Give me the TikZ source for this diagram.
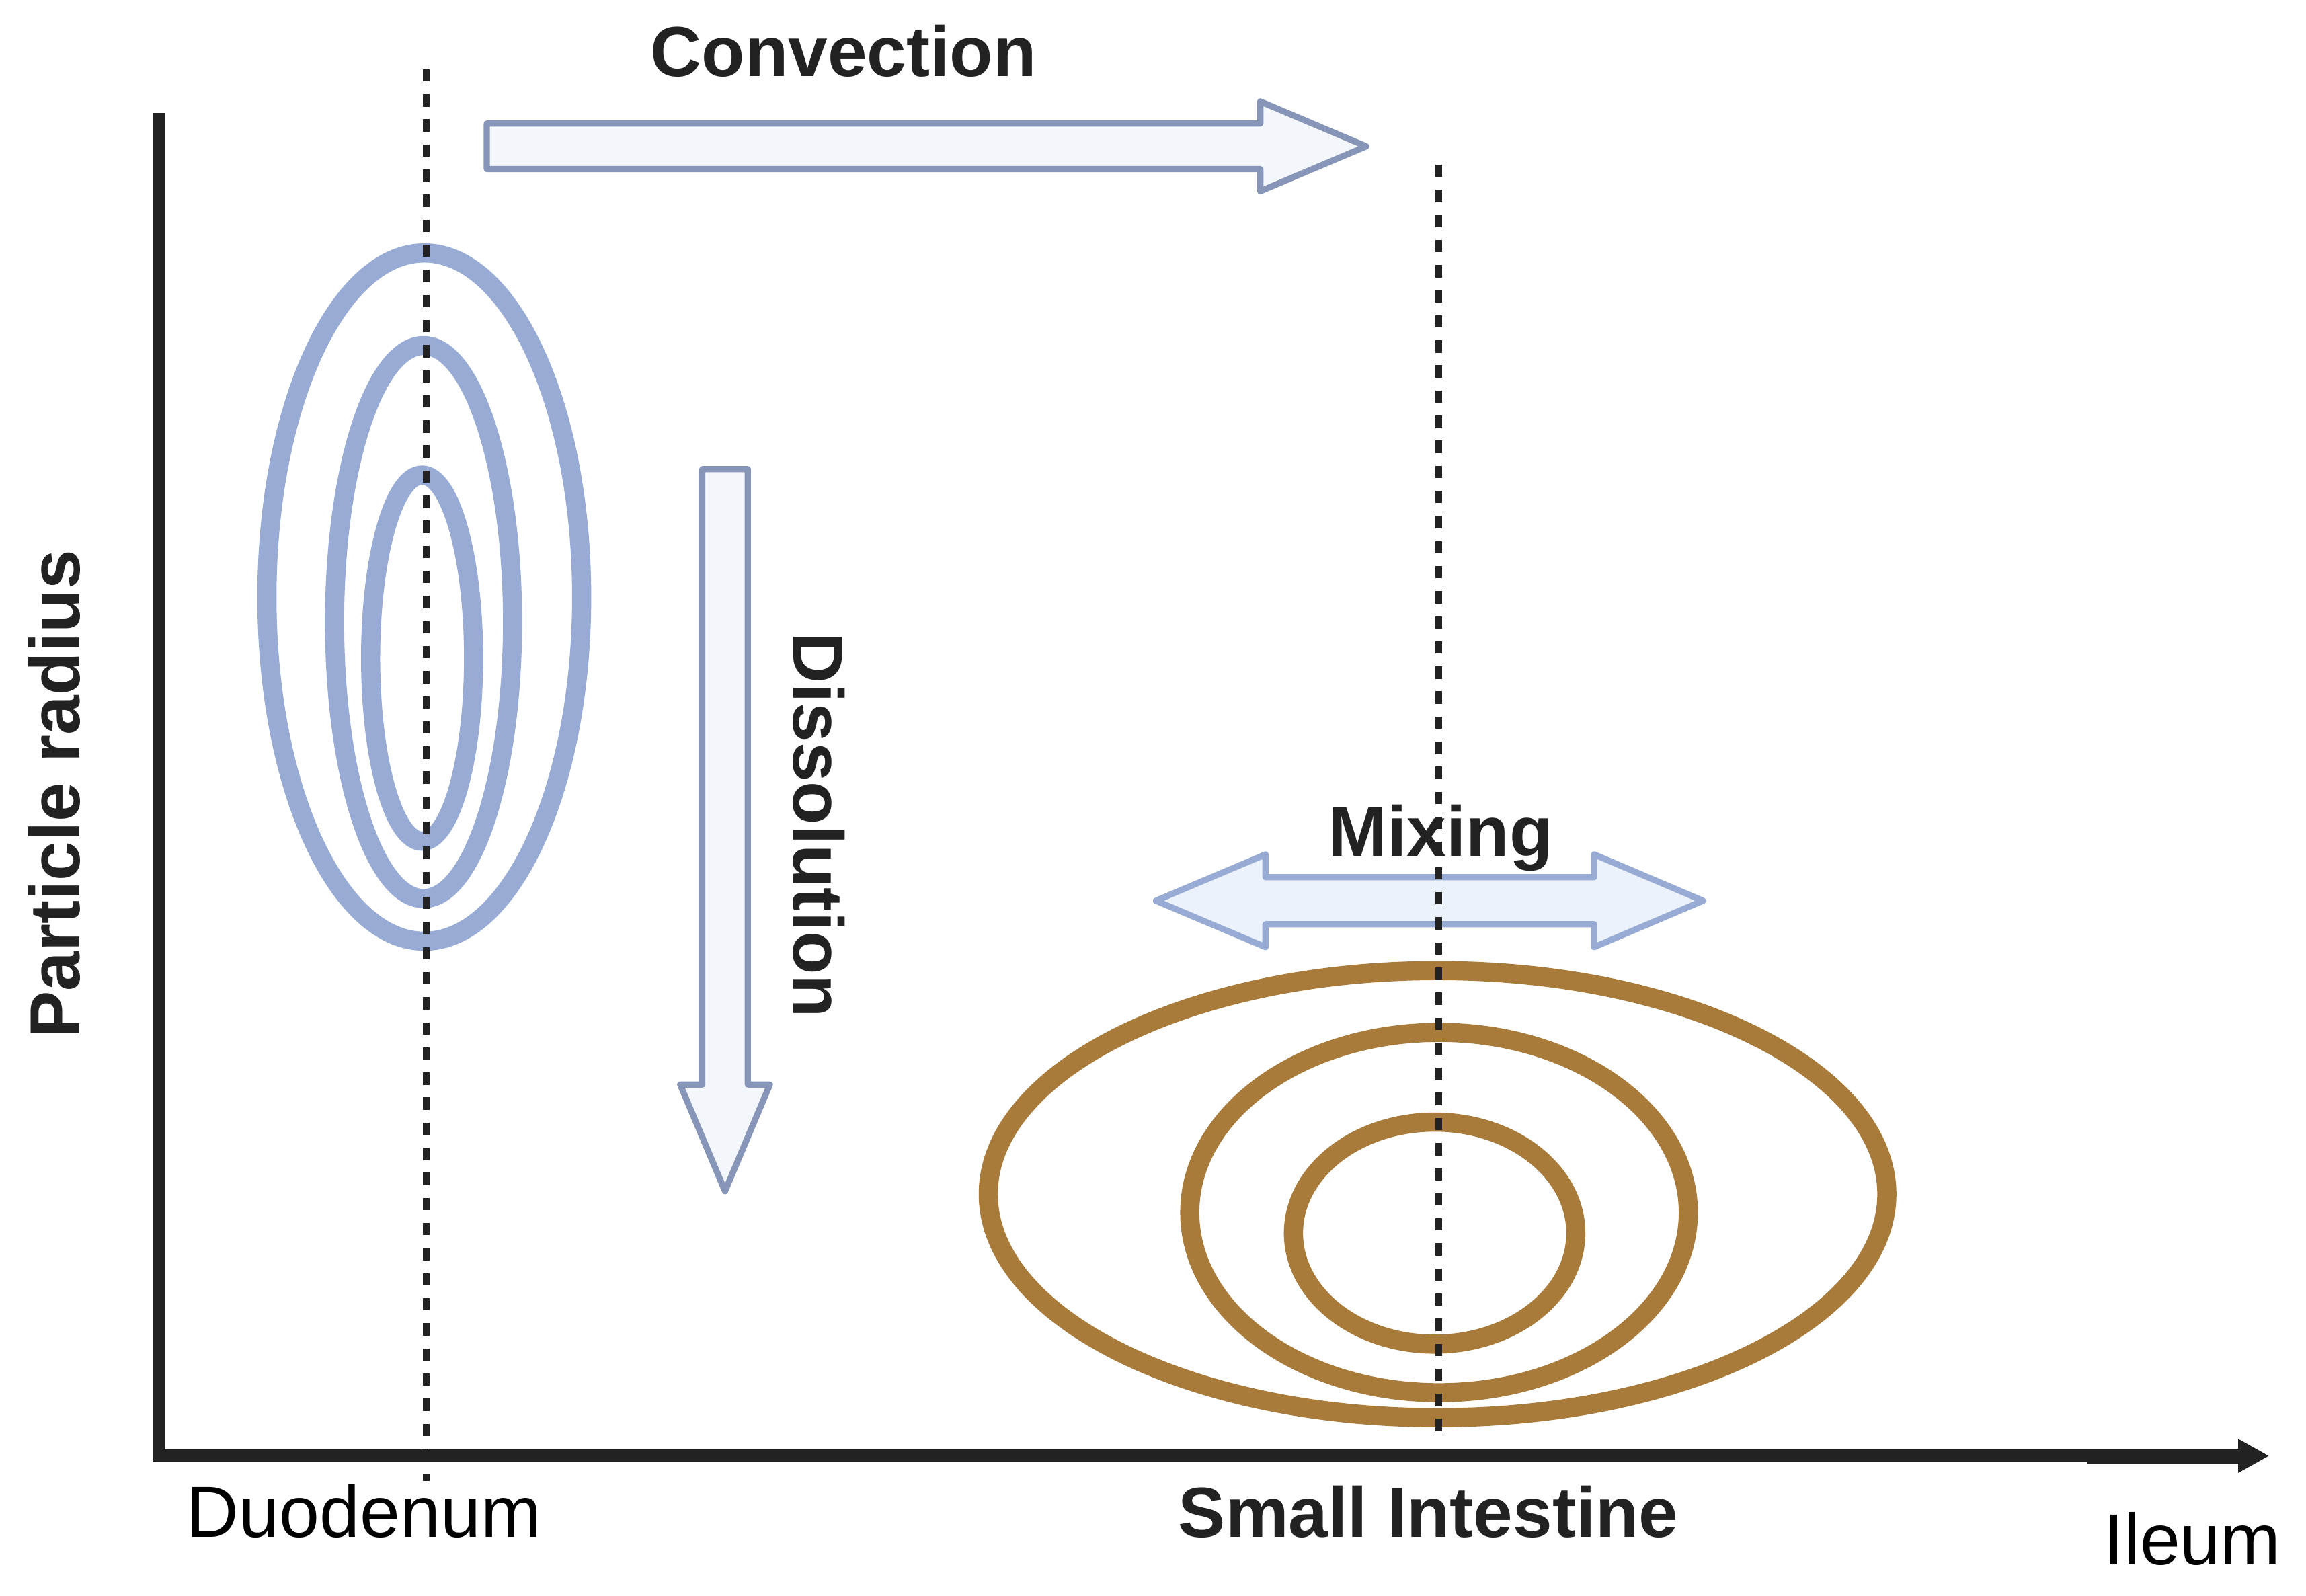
\documentclass[tikz,border=0pt]{standalone}
\usepackage{fontspec}
\setmainfont{Liberation Sans}
\usepackage{xcolor}
\usetikzlibrary{arrows.meta}
\definecolor{axisdark}{HTML}{222222}
\definecolor{eggblue}{HTML}{97ABD4}
\definecolor{flowedge}{HTML}{8795B8}
\definecolor{flowfill}{HTML}{F3F6FA}
\definecolor{mixfill}{HTML}{EBF2FB}
\definecolor{grainbrown}{HTML}{A87B3A}
\tikzset{
  figlabel/.style={inner sep=0pt, text=axisdark, font=\fontsize{13.7}{16}\selectfont\bfseries},
  figaxislabel/.style={inner sep=0pt, text=black, font=\fontsize{14}{17}\selectfont},
  figaxis/.style={draw=axisdark, line width=2.4pt},
  figguide/.style={draw=axisdark, line width=1.2pt, dash pattern=on 2.4pt off 2.45pt},
  figegg/.style={draw=eggblue, line width=3.7pt},
  figgrain/.style={draw=grainbrown, line width=3.7pt},
  figflow/.style={draw=flowedge, fill=flowfill, line width=1.2pt, line join=round},
  figmix/.style={draw=eggblue, fill=mixfill, line width=1.2pt, line join=round},
}

\begin{document}
\begin{tikzpicture}[x=0.01cm, y=-0.01cm]
			\useasboundingbox (0,0) rectangle (1568,1085);

			% Axes
			\coordinate (ytop) at (108,77);
			\coordinate (origin) at (108,990);
			\coordinate (xmid) at (1419,990);
			\coordinate (xend) at (1543,990);
			\draw[figaxis] (ytop) -- (origin) -- (xmid);
			\draw[figaxis, line width=2.85pt, -{Triangle[length=6pt, width=6.1pt]}] (xmid) -- (xend);

			% Particles in the duodenum (blue) and small intestine (brown)
			\draw[figegg] (288.5,406) ellipse [x radius=107, y radius=234];
			\draw[figegg] (288,423) ellipse [x radius=60.5, y radius=188];
			\draw[figegg] (287,447.5) ellipse [x radius=35, y radius=124.5];
			\draw[figgrain] (977.5,812) ellipse [x radius=305.5, y radius=152];
			\draw[figgrain] (978.5,824.5) ellipse [x radius=169.5, y radius=122.5];
			\draw[figgrain] (975.5,838.5) ellipse [x radius=96, y radius=75.5];

			% Block arrows
			\draw[figflow] (331,84) -- (857,84) -- (857,69) -- (929,99.5) -- (857,130) -- (857,115) -- (331,115) -- cycle;
			\draw[figflow] (477.5,319) -- (508.5,319) -- (508.5,737.5) -- (523.5,737.5) -- (493,810) -- (462.5,737.5) -- (477.5,737.5) -- cycle;
			\draw[figmix] (786,612.5) -- (860.5,581) -- (860.5,596.5) -- (1084,596.5) -- (1084,581) -- (1158,612.5)
				-- (1084,644) -- (1084,628.5) -- (860.5,628.5) -- (860.5,644) -- cycle;

			% Process labels
			\node[figlabel, anchor=base] (convection) at (573.5,52) {Convection};
			\node[figlabel, anchor=base] (mixing) at (979.5,582) {Mixing};
			\node[figlabel, rotate=-90] (dissolution) at (557,561) {Dissolution};

			% Axis labels
			\node[figlabel, rotate=90] (radius) at (37,540) {Particle radius};
			\node[figaxislabel, anchor=base] (duodenum) at (247.5,1045.3) {Duodenum};
			\node[figlabel, anchor=base] (intestine) at (971.3,1045.3) {Small Intestine};
			\node[figaxislabel, anchor=base] (ileum) at (1490.7,1064) {Ileum};

			% Dotted guides through the particle centres
			\coordinate (duotop) at (289.8,47);
			\coordinate (duobot) at (289.8,1007);
			\coordinate (sitop) at (978.3,112);
			\coordinate (sibot) at (978.3,975);
			\draw[figguide] (duotop) -- (duobot);
			\draw[figguide] (sitop) -- (sibot);
		\end{tikzpicture}
\end{document}
